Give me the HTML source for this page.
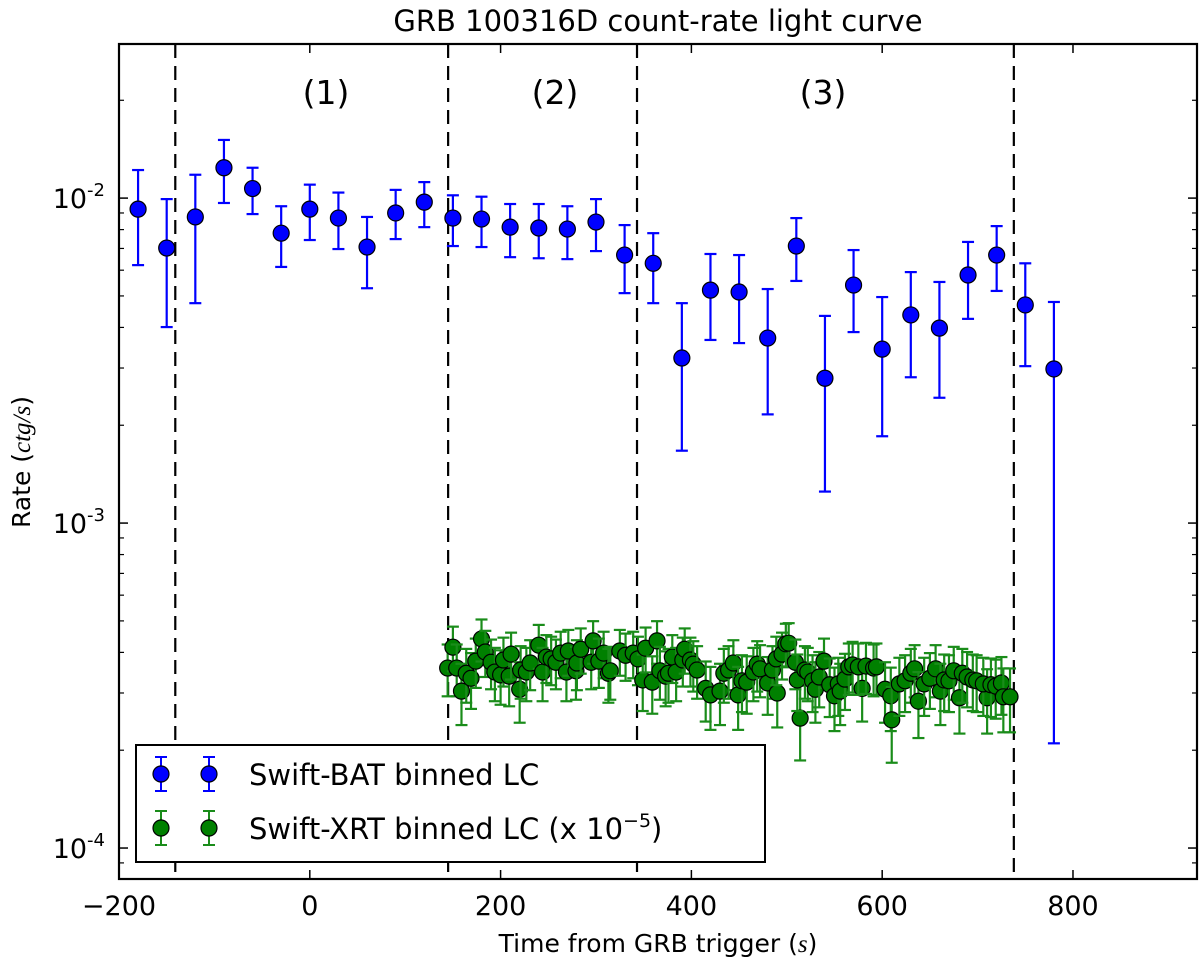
<!DOCTYPE html>
<html><head><meta charset="utf-8"><style>
body{margin:0;background:#fff;}
svg text{font-family:"DejaVu Sans","Liberation Sans",sans-serif;fill:#000;}
</style></head><body>
<svg id="chart" width="1200" height="964" xmlns="http://www.w3.org/2000/svg">
<text x="658" y="31" font-size="29" text-anchor="middle">GRB 100316D count-rate light curve</text>
<g id="plot"></g>
<text x="658" y="952" font-size="25" text-anchor="middle">Time from GRB trigger (<tspan font-style="italic" font-family="Liberation Serif">s</tspan>)</text>
<text transform="translate(30,462) rotate(-90)" font-size="25" text-anchor="middle">Rate (<tspan font-style="italic" font-family="Liberation Serif">ctg/s</tspan>)</text>
</svg>
<script>
const xTicks=[-200,0,200,400,600,800];
const yDecades=[-4,-3,-2];
const dashLines=[-141,145,343,738];
const regionLabels=["(1)","(2)","(3)"];
const regionX=[17,257,538];
const batT=[-180,-150,-120,-90,-60,-30,0,30,60,90,120,150,180,210,240,270,300,330,360,390,420,450,480,510,540,570,600,630,660,690,720,750,780];
const batR=[0.00925,0.00702,0.00875,0.0124,0.0107,0.0078,0.00925,0.00868,0.00707,0.009,0.00972,0.00868,0.00862,0.00814,0.00809,0.00803,0.00844,0.00668,0.0063,0.00322,0.00521,0.00514,0.00371,0.00712,0.00279,0.0054,0.00343,0.00437,0.00398,0.0058,0.00668,0.00469,0.00298];
const batHi=[0.0122,0.00993,0.0118,0.0151,0.0124,0.00944,0.011,0.0104,0.00875,0.0106,0.0112,0.0102,0.0101,0.00959,0.00959,0.00944,0.00993,0.00826,0.0078,0.00475,0.00673,0.00668,0.00525,0.00868,0.00434,0.00692,0.00496,0.00592,0.00552,0.00733,0.0082,0.0063,0.00479];
const batLo=[0.00622,0.00401,0.00475,0.00966,0.00893,0.00614,0.00743,0.00697,0.00528,0.00748,0.00814,0.00712,0.00707,0.00658,0.00653,0.00649,0.00687,0.0051,0.00475,0.00167,0.00366,0.00358,0.00216,0.00556,0.00125,0.00387,0.00185,0.00281,0.00243,0.00425,0.00518,0.00304,0.00021];
const xrtT=[144.5,150,154,159,164,169,174,180,184,190,194,200,203,209,211,220,221,227,231,240,244,248,253,258,263,269,271,279,280,284,295,297,303,308,313,315,325,331,339,344,349,352,359,364,367,373,376,380,384,391,393,399,402,406,415,420,430,434,439,444,449,453,458,465,469,472,480,485,490,489,495,499,502,509,514,511,519,522,527,530,534,539,545,550,554,556,561,565,569,579,575,583,591,594,603,609,610,618,624,630,634,638,644,650,656,661,665,670,675,681,684,689,695,699,710,706,714,719,725,727,734];
const xrtR=[3.58,4.15,3.58,3.04,3.45,3.33,3.76,4.40,4.01,3.73,3.48,3.41,3.79,3.38,3.95,3.08,3.53,3.48,3.71,4.21,3.48,3.87,3.82,3.73,3.98,3.48,4.04,3.51,3.71,4.09,3.73,4.34,3.76,3.98,3.45,3.51,4.04,3.92,3.98,3.82,3.29,4.12,3.24,4.34,3.51,3.38,3.45,3.87,3.48,3.79,4.09,3.79,3.68,3.53,3.10,2.96,3.04,3.45,3.53,3.71,2.96,3.27,3.24,3.48,3.68,3.56,3.22,3.53,3.00,3.82,3.95,4.25,4.27,3.73,2.51,3.29,3.53,3.48,3.27,3.08,3.36,3.76,3.18,2.94,3.20,3.04,3.31,3.61,3.66,3.10,3.61,3.63,3.58,3.61,3.08,2.94,2.48,3.20,3.27,3.45,3.56,2.83,3.20,3.33,3.56,3.04,3.29,3.27,3.51,2.90,3.45,3.36,3.29,3.27,2.90,3.20,3.18,3.15,3.22,2.92,2.92];
const xrtErr=0.65;
const NS="http://www.w3.org/2000/svg";
const L=119,R=1197,T=44,B=879,X0=-200,X1=930,YL=Math.log10(8.03e-5),YH=Math.log10(0.0298);
const sx=v=>L+(v-X0)/(X1-X0)*(R-L);
const sy=v=>B-(Math.log10(v)-YL)/(YH-YL)*(B-T);
const g=document.getElementById('plot');
function el(tag,attrs,parent){const e=document.createElementNS(NS,tag);for(const k in attrs)e.setAttribute(k,attrs[k]);(parent||g).appendChild(e);return e;}
dashLines.forEach(d=>{const l=el('line',{x1:sx(d),x2:sx(d),y1:T,y2:B,stroke:'#000','stroke-width':2.2,'stroke-dasharray':'14,8'});

});
regionLabels.forEach((s,i)=>{const t=el('text',{x:sx(regionX[i]),y:104,'font-size':33,'text-anchor':'middle'});t.textContent=s;

});
function errbar(x,y,lo,hi,col,cap,r,name){const gg=el('g',{});


const X=sx(x);el('line',{x1:X,x2:X,y1:sy(lo),y2:sy(hi),stroke:col,'stroke-width':2.2},gg);
[lo,hi].forEach(v=>el('line',{x1:X-cap,x2:X+cap,y1:sy(v),y2:sy(v),stroke:col,'stroke-width':2.2},gg));
el('circle',{cx:X,cy:sy(y),r:r,fill:col==='#0000ff'?'#0000ff':'#008000',stroke:'#000','stroke-width':1.2},gg);}
xrtT.forEach((t,i)=>{const v=xrtR[i]*1e-4;errbar(t,v,v-xrtErr*1e-4,v+xrtErr*1e-4,'#1a8c1a',6,8,'xrt-point');});
batT.forEach((t,i)=>errbar(t,batR[i],batLo[i],batHi[i],'#0000ff',6,8,'bat-point'));
const f=el('rect',{x:L,y:T,width:R-L,height:B-T,fill:'none',stroke:'#000','stroke-width':2.2});


xTicks.forEach(v=>{const X=sx(v);el('line',{x1:X,x2:X,y1:B,y2:B-9,stroke:'#000','stroke-width':1.5});el('line',{x1:X,x2:X,y1:T,y2:T+9,stroke:'#000','stroke-width':1.5});
const t=el('text',{x:X,y:B+36,'font-size':27,'text-anchor':'middle'});t.textContent=v<0?'\u2212'+(-v):String(v);

});
yDecades.forEach(p=>{const Y=sy(Math.pow(10,p));el('line',{x1:L,x2:L+9,y1:Y,y2:Y,stroke:'#000','stroke-width':1.5});el('line',{x1:R,x2:R-9,y1:Y,y2:Y,stroke:'#000','stroke-width':1.5});
const t=el('text',{x:L-14,y:Y+10,'font-size':27,'text-anchor':'end'});t.innerHTML='10<tspan dy="-12" font-size="18">'+p+'</tspan>';

});
for(let p=-5;p<=-2;p++)for(let m=2;m<10;m++){const v=m*Math.pow(10,p);if(Math.log10(v)<YL||Math.log10(v)>YH)continue;const Y=sy(v);
el('line',{x1:L,x2:L+5,y1:Y,y2:Y,stroke:'#000','stroke-width':1.2});el('line',{x1:R,x2:R-5,y1:Y,y2:Y,stroke:'#000','stroke-width':1.2});}
const lg=el('g',{});


el('rect',{x:136,y:745,width:629,height:117,fill:'#fff',stroke:'#000','stroke-width':2},lg);
function legItem(y,col,fill,label,name){const gg=el('g',{},lg);


[161,209].forEach(x=>{el('line',{x1:x,x2:x,y1:y-17,y2:y+17,stroke:col,'stroke-width':2},gg);[y-17,y+17].forEach(yy=>el('line',{x1:x-6,x2:x+6,y1:yy,y2:yy,stroke:col,'stroke-width':2},gg));
el('circle',{cx:x,cy:y,r:8,fill:fill,stroke:'#000','stroke-width':1.2},gg);});
const t=el('text',{x:249,y:y+11,'font-size':29},gg);t.innerHTML=label;}
legItem(774,'#0000ff','#0000ff','Swift-BAT binned LC','legend-entry-bat');
legItem(828,'#1a8c1a','#008000','Swift-XRT binned LC (x 10<tspan dy="-12" font-size="19">\u22125</tspan><tspan dy="12">)</tspan>','legend-entry-xrt');
</script>
</body></html>
